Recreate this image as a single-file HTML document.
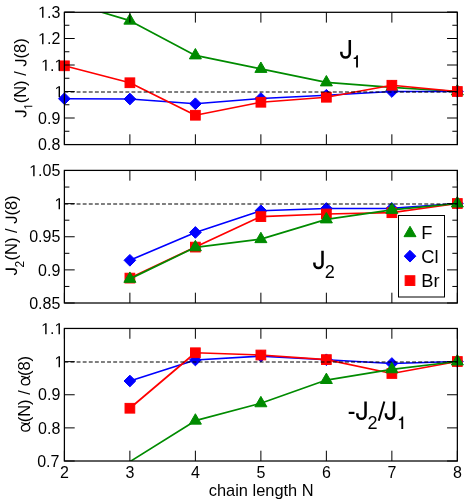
<!DOCTYPE html>
<html><head><meta charset="utf-8"><title>chart</title>
<style>
html,body{margin:0;padding:0;background:#fff;}
body{width:468px;height:504px;overflow:hidden;}
svg{display:block;will-change:transform;}
text{font-family:"Liberation Sans",sans-serif;fill:#000;}
.t{font-size:16px;}
.a{font-size:16.5px;}
.big{font-size:25.5px;}
.sub{font-size:18px;}
.leg{font-size:18.3px;}
</style></head><body>
<svg width="468" height="504" viewBox="0 0 468 504">
<rect x="0" y="0" width="468" height="504" fill="#ffffff"/>
<defs>
<clipPath id="c0"><rect x="64.4" y="12.3" width="392.95" height="132.30"/></clipPath>
<clipPath id="c1"><rect x="64.4" y="170.4" width="392.95" height="132.60"/></clipPath>
<clipPath id="c2"><rect x="64.4" y="328.45" width="392.95" height="132.55"/></clipPath>
</defs>
<g id="panel0">
<polyline clip-path="url(#c0)" points="64.40,1.00 129.89,20.67 195.38,55.42 260.88,68.92 326.37,82.42 391.86,87.30 457.35,91.50" fill="none" stroke="#008b00" stroke-width="1.7" stroke-linejoin="round"/>
<polygon points="129.89,13.74 123.89,24.13 135.89,24.13" fill="#008b00" stroke="#008b00" stroke-width="1" stroke-linejoin="miter" stroke-miterlimit="10"/>
<polygon points="195.38,48.49 189.38,58.88 201.38,58.88" fill="#008b00" stroke="#008b00" stroke-width="1" stroke-linejoin="miter" stroke-miterlimit="10"/>
<polygon points="260.88,61.99 254.88,72.38 266.88,72.38" fill="#008b00" stroke="#008b00" stroke-width="1" stroke-linejoin="miter" stroke-miterlimit="10"/>
<polygon points="326.37,75.49 320.37,85.88 332.37,85.88" fill="#008b00" stroke="#008b00" stroke-width="1" stroke-linejoin="miter" stroke-miterlimit="10"/>
<polygon points="391.86,80.37 385.86,90.76 397.86,90.76" fill="#008b00" stroke="#008b00" stroke-width="1" stroke-linejoin="miter" stroke-miterlimit="10"/>
<polygon points="457.35,84.57 451.35,94.96 463.35,94.96" fill="#008b00" stroke="#008b00" stroke-width="1" stroke-linejoin="miter" stroke-miterlimit="10"/>
<polyline clip-path="url(#c0)" points="64.40,98.75 129.89,99.00 195.38,103.75 260.88,98.50 326.37,95.25 391.86,91.50 457.35,91.50" fill="none" stroke="#0000ff" stroke-width="1.7" stroke-linejoin="round"/>
<polygon points="64.40,92.90 70.25,98.75 64.40,104.60 58.55,98.75" fill="#0000ff" stroke="#0000ff" stroke-width="1" stroke-linejoin="miter" stroke-miterlimit="10"/>
<polygon points="129.89,93.15 135.74,99.00 129.89,104.85 124.04,99.00" fill="#0000ff" stroke="#0000ff" stroke-width="1" stroke-linejoin="miter" stroke-miterlimit="10"/>
<polygon points="195.38,97.90 201.23,103.75 195.38,109.60 189.53,103.75" fill="#0000ff" stroke="#0000ff" stroke-width="1" stroke-linejoin="miter" stroke-miterlimit="10"/>
<polygon points="260.88,92.65 266.73,98.50 260.88,104.35 255.03,98.50" fill="#0000ff" stroke="#0000ff" stroke-width="1" stroke-linejoin="miter" stroke-miterlimit="10"/>
<polygon points="326.37,89.40 332.22,95.25 326.37,101.10 320.52,95.25" fill="#0000ff" stroke="#0000ff" stroke-width="1" stroke-linejoin="miter" stroke-miterlimit="10"/>
<polygon points="391.86,85.65 397.71,91.50 391.86,97.35 386.01,91.50" fill="#0000ff" stroke="#0000ff" stroke-width="1" stroke-linejoin="miter" stroke-miterlimit="10"/>
<polygon points="457.35,85.65 463.20,91.50 457.35,97.35 451.50,91.50" fill="#0000ff" stroke="#0000ff" stroke-width="1" stroke-linejoin="miter" stroke-miterlimit="10"/>
<polyline clip-path="url(#c0)" points="64.40,65.80 129.89,82.75 195.38,115.25 260.88,102.25 326.37,97.25 391.86,85.25 457.35,91.50" fill="none" stroke="#ff0000" stroke-width="1.7" stroke-linejoin="round"/>
<rect x="59.55" y="60.95" width="9.70" height="9.70" fill="#ff0000" stroke="#ff0000" stroke-width="1" stroke-linejoin="miter" stroke-miterlimit="10"/>
<rect x="125.04" y="77.90" width="9.70" height="9.70" fill="#ff0000" stroke="#ff0000" stroke-width="1" stroke-linejoin="miter" stroke-miterlimit="10"/>
<rect x="190.53" y="110.40" width="9.70" height="9.70" fill="#ff0000" stroke="#ff0000" stroke-width="1" stroke-linejoin="miter" stroke-miterlimit="10"/>
<rect x="256.02" y="97.40" width="9.70" height="9.70" fill="#ff0000" stroke="#ff0000" stroke-width="1" stroke-linejoin="miter" stroke-miterlimit="10"/>
<rect x="321.52" y="92.40" width="9.70" height="9.70" fill="#ff0000" stroke="#ff0000" stroke-width="1" stroke-linejoin="miter" stroke-miterlimit="10"/>
<rect x="387.01" y="80.40" width="9.70" height="9.70" fill="#ff0000" stroke="#ff0000" stroke-width="1" stroke-linejoin="miter" stroke-miterlimit="10"/>
<rect x="452.50" y="86.65" width="9.70" height="9.70" fill="#ff0000" stroke="#ff0000" stroke-width="1" stroke-linejoin="miter" stroke-miterlimit="10"/>
<line x1="64.4" y1="92.00" x2="457.35" y2="92.00" stroke="#000" stroke-width="1.1" stroke-dasharray="3.9,2.2"/>
<path d="M64.40,12.3v10.3M64.40,144.6v-10.3M129.89,12.3v10.3M129.89,144.6v-10.3M195.38,12.3v10.3M195.38,144.6v-10.3M260.88,12.3v10.3M260.88,144.6v-10.3M326.37,12.3v10.3M326.37,144.6v-10.3M391.86,12.3v10.3M391.86,144.6v-10.3M457.35,12.3v10.3M457.35,144.6v-10.3M64.4,12.00h10.3M457.35,12.00h-10.3M64.4,38.50h10.3M457.35,38.50h-10.3M64.4,65.00h10.3M457.35,65.00h-10.3M64.4,91.50h10.3M457.35,91.50h-10.3M64.4,118.00h10.3M457.35,118.00h-10.3M64.4,144.50h10.3M457.35,144.50h-10.3M64.4,25.25h5M457.35,25.25h-5M64.4,51.75h5M457.35,51.75h-5M64.4,78.25h5M457.35,78.25h-5M64.4,104.75h5M457.35,104.75h-5M64.4,131.25h5M457.35,131.25h-5" stroke="#000" stroke-width="1.0" fill="none"/>
<rect x="64.4" y="12.3" width="392.95" height="132.30" fill="none" stroke="#000" stroke-width="1.25"/>
<text class="t" x="60.3" y="17.65" text-anchor="end"><tspan visibility="hidden">1</tspan>.3</text><path d="M42.08,17.65L42.08,7.99L39.60,9.76L39.60,8.43L42.20,6.64L43.50,6.64L43.50,17.65Z" fill="#000"/>
<text class="t" x="60.3" y="44.15" text-anchor="end"><tspan visibility="hidden">1</tspan>.2</text><path d="M42.08,44.15L42.08,34.49L39.60,36.26L39.60,34.93L42.20,33.14L43.50,33.14L43.50,44.15Z" fill="#000"/>
<text class="t" x="63.4" y="70.65" text-anchor="end"><tspan visibility="hidden">1</tspan>.<tspan visibility="hidden">1</tspan></text><path d="M45.18,70.65L45.18,60.99L42.70,62.76L42.70,61.43L45.30,59.64L46.60,59.64L46.60,70.65Z" fill="#000"/><path d="M58.52,70.65L58.52,60.99L56.04,62.76L56.04,61.43L58.64,59.64L59.94,59.64L59.94,70.65Z" fill="#000"/>
<path d="M58.59,97.15L58.59,87.49L56.10,89.26L56.10,87.93L58.70,86.14L60.00,86.14L60.00,97.15Z" fill="#000"/>
<text class="t" x="60.3" y="123.65" text-anchor="end">0.9</text>
<text class="t" x="60.3" y="150.15" text-anchor="end">0.8</text>
</g>
<g id="panel1">
<polyline clip-path="url(#c1)" points="129.89,260.30 195.38,232.45 260.88,210.75 326.37,208.50 391.86,208.40 457.35,203.50" fill="none" stroke="#0000ff" stroke-width="1.7" stroke-linejoin="round"/>
<polygon points="129.89,254.45 135.74,260.30 129.89,266.15 124.04,260.30" fill="#0000ff" stroke="#0000ff" stroke-width="1" stroke-linejoin="miter" stroke-miterlimit="10"/>
<polygon points="195.38,226.60 201.23,232.45 195.38,238.30 189.53,232.45" fill="#0000ff" stroke="#0000ff" stroke-width="1" stroke-linejoin="miter" stroke-miterlimit="10"/>
<polygon points="260.88,204.90 266.73,210.75 260.88,216.60 255.03,210.75" fill="#0000ff" stroke="#0000ff" stroke-width="1" stroke-linejoin="miter" stroke-miterlimit="10"/>
<polygon points="326.37,202.65 332.22,208.50 326.37,214.35 320.52,208.50" fill="#0000ff" stroke="#0000ff" stroke-width="1" stroke-linejoin="miter" stroke-miterlimit="10"/>
<polygon points="391.86,202.55 397.71,208.40 391.86,214.25 386.01,208.40" fill="#0000ff" stroke="#0000ff" stroke-width="1" stroke-linejoin="miter" stroke-miterlimit="10"/>
<polygon points="457.35,197.65 463.20,203.50 457.35,209.35 451.50,203.50" fill="#0000ff" stroke="#0000ff" stroke-width="1" stroke-linejoin="miter" stroke-miterlimit="10"/>
<polyline clip-path="url(#c1)" points="129.89,278.10 195.38,247.10 260.88,216.60 326.37,214.00 391.86,212.70 457.35,203.50" fill="none" stroke="#ff0000" stroke-width="1.7" stroke-linejoin="round"/>
<rect x="125.04" y="273.25" width="9.70" height="9.70" fill="#ff0000" stroke="#ff0000" stroke-width="1" stroke-linejoin="miter" stroke-miterlimit="10"/>
<rect x="190.53" y="242.25" width="9.70" height="9.70" fill="#ff0000" stroke="#ff0000" stroke-width="1" stroke-linejoin="miter" stroke-miterlimit="10"/>
<rect x="256.02" y="211.75" width="9.70" height="9.70" fill="#ff0000" stroke="#ff0000" stroke-width="1" stroke-linejoin="miter" stroke-miterlimit="10"/>
<rect x="321.52" y="209.15" width="9.70" height="9.70" fill="#ff0000" stroke="#ff0000" stroke-width="1" stroke-linejoin="miter" stroke-miterlimit="10"/>
<rect x="387.01" y="207.85" width="9.70" height="9.70" fill="#ff0000" stroke="#ff0000" stroke-width="1" stroke-linejoin="miter" stroke-miterlimit="10"/>
<rect x="452.50" y="198.65" width="9.70" height="9.70" fill="#ff0000" stroke="#ff0000" stroke-width="1" stroke-linejoin="miter" stroke-miterlimit="10"/>
<polyline clip-path="url(#c1)" points="129.89,278.87 195.38,247.30 260.88,239.17 326.37,219.42 391.86,209.90 457.35,203.50" fill="none" stroke="#008b00" stroke-width="1.7" stroke-linejoin="round"/>
<polygon points="129.89,271.94 123.89,282.33 135.89,282.33" fill="#008b00" stroke="#008b00" stroke-width="1" stroke-linejoin="miter" stroke-miterlimit="10"/>
<polygon points="195.38,240.37 189.38,250.76 201.38,250.76" fill="#008b00" stroke="#008b00" stroke-width="1" stroke-linejoin="miter" stroke-miterlimit="10"/>
<polygon points="260.88,232.24 254.88,242.63 266.88,242.63" fill="#008b00" stroke="#008b00" stroke-width="1" stroke-linejoin="miter" stroke-miterlimit="10"/>
<polygon points="326.37,212.49 320.37,222.88 332.37,222.88" fill="#008b00" stroke="#008b00" stroke-width="1" stroke-linejoin="miter" stroke-miterlimit="10"/>
<polygon points="391.86,202.97 385.86,213.36 397.86,213.36" fill="#008b00" stroke="#008b00" stroke-width="1" stroke-linejoin="miter" stroke-miterlimit="10"/>
<polygon points="457.35,196.57 451.35,206.96 463.35,206.96" fill="#008b00" stroke="#008b00" stroke-width="1" stroke-linejoin="miter" stroke-miterlimit="10"/>
<line x1="64.4" y1="204.00" x2="457.35" y2="204.00" stroke="#000" stroke-width="1.1" stroke-dasharray="3.9,2.2"/>
<rect x="398.5" y="215.5" width="46" height="81.5" fill="#fff" stroke="#000" stroke-width="1"/>
<polygon points="410.00,226.27 404.00,236.66 416.00,236.66" fill="#008b00" stroke="#008b00" stroke-width="1" stroke-linejoin="miter" stroke-miterlimit="10"/>
<polygon points="410.00,250.35 415.85,256.20 410.00,262.05 404.15,256.20" fill="#0000ff" stroke="#0000ff" stroke-width="1" stroke-linejoin="miter" stroke-miterlimit="10"/>
<rect x="405.15" y="275.75" width="9.70" height="9.70" fill="#ff0000" stroke="#ff0000" stroke-width="1" stroke-linejoin="miter" stroke-miterlimit="10"/>
<text class="leg" x="421.2" y="238.5">F</text>
<text class="leg" x="421.2" y="262.8">Cl</text>
<text class="leg" x="421.2" y="287">Br</text>
<path d="M64.40,170.4v10.3M64.40,303.0v-10.3M129.89,170.4v10.3M129.89,303.0v-10.3M195.38,170.4v10.3M195.38,303.0v-10.3M260.88,170.4v10.3M260.88,303.0v-10.3M326.37,170.4v10.3M326.37,303.0v-10.3M391.86,170.4v10.3M391.86,303.0v-10.3M457.35,170.4v10.3M457.35,303.0v-10.3M64.4,170.50h10.3M457.35,170.50h-10.3M64.4,203.62h10.3M457.35,203.62h-10.3M64.4,236.75h10.3M457.35,236.75h-10.3M64.4,269.88h10.3M457.35,269.88h-10.3M64.4,303.00h10.3M457.35,303.00h-10.3M64.4,187.06h5M457.35,187.06h-5M64.4,220.19h5M457.35,220.19h-5M64.4,253.31h5M457.35,253.31h-5M64.4,286.44h5M457.35,286.44h-5" stroke="#000" stroke-width="1.0" fill="none"/>
<rect x="64.4" y="170.4" width="392.95" height="132.60" fill="none" stroke="#000" stroke-width="1.25"/>
<text class="t" x="60.3" y="176.15" text-anchor="end"><tspan visibility="hidden">1</tspan>.05</text><path d="M33.18,176.15L33.18,166.49L30.70,168.26L30.70,166.93L33.30,165.14L34.60,165.14L34.60,176.15Z" fill="#000"/>
<path d="M58.59,209.28L58.59,199.61L56.10,201.38L56.10,200.06L58.70,198.27L60.00,198.27L60.00,209.28Z" fill="#000"/>
<text class="t" x="60.3" y="242.40" text-anchor="end">0.95</text>
<text class="t" x="60.3" y="275.52" text-anchor="end">0.9</text>
<text class="t" x="60.3" y="308.65" text-anchor="end">0.85</text>
</g>
<g id="panel2">
<polyline clip-path="url(#c2)" points="129.89,381.00 195.38,360.00 260.88,356.10 326.37,359.75 391.86,363.50 457.35,361.50" fill="none" stroke="#0000ff" stroke-width="1.7" stroke-linejoin="round"/>
<polygon points="129.89,375.15 135.74,381.00 129.89,386.85 124.04,381.00" fill="#0000ff" stroke="#0000ff" stroke-width="1" stroke-linejoin="miter" stroke-miterlimit="10"/>
<polygon points="195.38,354.15 201.23,360.00 195.38,365.85 189.53,360.00" fill="#0000ff" stroke="#0000ff" stroke-width="1" stroke-linejoin="miter" stroke-miterlimit="10"/>
<polygon points="260.88,350.25 266.73,356.10 260.88,361.95 255.03,356.10" fill="#0000ff" stroke="#0000ff" stroke-width="1" stroke-linejoin="miter" stroke-miterlimit="10"/>
<polygon points="326.37,353.90 332.22,359.75 326.37,365.60 320.52,359.75" fill="#0000ff" stroke="#0000ff" stroke-width="1" stroke-linejoin="miter" stroke-miterlimit="10"/>
<polygon points="391.86,357.65 397.71,363.50 391.86,369.35 386.01,363.50" fill="#0000ff" stroke="#0000ff" stroke-width="1" stroke-linejoin="miter" stroke-miterlimit="10"/>
<polygon points="457.35,355.65 463.20,361.50 457.35,367.35 451.50,361.50" fill="#0000ff" stroke="#0000ff" stroke-width="1" stroke-linejoin="miter" stroke-miterlimit="10"/>
<polyline clip-path="url(#c2)" points="129.89,408.25 195.38,352.75 260.88,355.00 326.37,359.60 391.86,373.50 457.35,361.50" fill="none" stroke="#ff0000" stroke-width="1.7" stroke-linejoin="round"/>
<rect x="125.04" y="403.40" width="9.70" height="9.70" fill="#ff0000" stroke="#ff0000" stroke-width="1" stroke-linejoin="miter" stroke-miterlimit="10"/>
<rect x="190.53" y="347.90" width="9.70" height="9.70" fill="#ff0000" stroke="#ff0000" stroke-width="1" stroke-linejoin="miter" stroke-miterlimit="10"/>
<rect x="256.02" y="350.15" width="9.70" height="9.70" fill="#ff0000" stroke="#ff0000" stroke-width="1" stroke-linejoin="miter" stroke-miterlimit="10"/>
<rect x="321.52" y="354.75" width="9.70" height="9.70" fill="#ff0000" stroke="#ff0000" stroke-width="1" stroke-linejoin="miter" stroke-miterlimit="10"/>
<rect x="387.01" y="368.65" width="9.70" height="9.70" fill="#ff0000" stroke="#ff0000" stroke-width="1" stroke-linejoin="miter" stroke-miterlimit="10"/>
<rect x="452.50" y="356.65" width="9.70" height="9.70" fill="#ff0000" stroke="#ff0000" stroke-width="1" stroke-linejoin="miter" stroke-miterlimit="10"/>
<polyline clip-path="url(#c2)" points="129.89,461.60 195.38,420.67 260.88,403.30 326.37,380.05 391.86,369.30 457.35,361.50" fill="none" stroke="#008b00" stroke-width="1.7" stroke-linejoin="round"/>
<polygon points="195.38,413.74 189.38,424.13 201.38,424.13" fill="#008b00" stroke="#008b00" stroke-width="1" stroke-linejoin="miter" stroke-miterlimit="10"/>
<polygon points="260.88,396.37 254.88,406.76 266.88,406.76" fill="#008b00" stroke="#008b00" stroke-width="1" stroke-linejoin="miter" stroke-miterlimit="10"/>
<polygon points="326.37,373.12 320.37,383.51 332.37,383.51" fill="#008b00" stroke="#008b00" stroke-width="1" stroke-linejoin="miter" stroke-miterlimit="10"/>
<polygon points="391.86,362.37 385.86,372.76 397.86,372.76" fill="#008b00" stroke="#008b00" stroke-width="1" stroke-linejoin="miter" stroke-miterlimit="10"/>
<polygon points="457.35,354.57 451.35,364.96 463.35,364.96" fill="#008b00" stroke="#008b00" stroke-width="1" stroke-linejoin="miter" stroke-miterlimit="10"/>
<line x1="64.4" y1="362.00" x2="457.35" y2="362.00" stroke="#000" stroke-width="1.1" stroke-dasharray="3.9,2.2"/>
<path d="M64.40,328.45v10.3M64.40,461.0v-10.3M129.89,328.45v10.3M129.89,461.0v-10.3M195.38,328.45v10.3M195.38,461.0v-10.3M260.88,328.45v10.3M260.88,461.0v-10.3M326.37,328.45v10.3M326.37,461.0v-10.3M391.86,328.45v10.3M391.86,461.0v-10.3M457.35,328.45v10.3M457.35,461.0v-10.3M64.4,328.50h10.3M457.35,328.50h-10.3M64.4,361.62h10.3M457.35,361.62h-10.3M64.4,394.75h10.3M457.35,394.75h-10.3M64.4,427.88h10.3M457.35,427.88h-10.3M64.4,461.00h10.3M457.35,461.00h-10.3" stroke="#000" stroke-width="1.0" fill="none"/>
<rect x="64.4" y="328.45" width="392.95" height="132.55" fill="none" stroke="#000" stroke-width="1.25"/>
<text class="t" x="63.4" y="334.15" text-anchor="end"><tspan visibility="hidden">1</tspan>.<tspan visibility="hidden">1</tspan></text><path d="M45.18,334.15L45.18,324.49L42.70,326.26L42.70,324.93L45.30,323.14L46.60,323.14L46.60,334.15Z" fill="#000"/><path d="M58.52,334.15L58.52,324.49L56.04,326.26L56.04,324.93L58.64,323.14L59.94,323.14L59.94,334.15Z" fill="#000"/>
<path d="M58.59,367.27L58.59,357.61L56.10,359.38L56.10,358.06L58.70,356.27L60.00,356.27L60.00,367.27Z" fill="#000"/>
<text class="t" x="60.3" y="400.40" text-anchor="end">0.9</text>
<text class="t" x="60.3" y="433.52" text-anchor="end">0.8</text>
<text class="t" x="59.4" y="466.65" text-anchor="end">0.7</text>
</g>
<text class="t" x="64.40" y="478.0" text-anchor="middle">2</text>
<text class="t" x="129.89" y="478.0" text-anchor="middle">3</text>
<text class="t" x="195.38" y="478.0" text-anchor="middle">4</text>
<text class="t" x="260.88" y="478.0" text-anchor="middle">5</text>
<text class="t" x="326.37" y="478.0" text-anchor="middle">6</text>
<text class="t" x="391.86" y="478.0" text-anchor="middle">7</text>
<text class="t" x="457.35" y="478.0" text-anchor="middle">8</text>
<text class="a" x="261.2" y="495.6" text-anchor="middle" style="font-size:16.4px">chain length N</text>
<g transform="translate(26.4,78.2) rotate(-90)"><text class="a" x="0" y="0" text-anchor="middle" style="font-size:16.5px"><tspan visibility="hidden">J</tspan><tspan dx="0.2" dy="5.9" font-size="11.8px" visibility="hidden">1</tspan><tspan dx="-0.2" dy="-5.9">(N) / </tspan><tspan visibility="hidden">J</tspan>(8)</text><path d="M-35.76,0.16Q-38.65,0.16 -39.19,-2.82L-37.68,-3.07Q-37.53,-2.14 -37.03,-1.61Q-36.52,-1.09 -35.75,-1.09Q-34.92,-1.09 -34.43,-1.66Q-33.95,-2.24 -33.95,-3.35L-33.95,-11.35L-32.42,-11.35L-32.42,-3.38Q-32.42,-1.73 -33.31,-0.79Q-34.21,0.16 -35.76,0.16Z" fill="#000"/><path d="M15.21,0.16Q12.32,0.16 11.79,-2.82L13.29,-3.07Q13.44,-2.14 13.94,-1.61Q14.45,-1.09 15.22,-1.09Q16.06,-1.09 16.54,-1.66Q17.02,-2.24 17.02,-3.35L17.02,-11.35L18.55,-11.35L18.55,-3.38Q18.55,-1.73 17.66,-0.79Q16.76,0.16 15.21,0.16Z" fill="#000"/><path d="M-28.53,5.90L-28.53,-1.23L-30.36,0.08L-30.36,-0.90L-28.44,-2.22L-27.48,-2.22L-27.48,5.90Z" fill="#000"/></g>
<g transform="translate(16.9,235.4) rotate(-90)"><text class="a" x="0" y="0" text-anchor="middle" style="font-size:16.5px"><tspan visibility="hidden">J</tspan><tspan dx="-0.3" dy="6.6" font-size="12.0px">2</tspan><tspan dx="0.3" dy="-6.6">(N) / </tspan><tspan visibility="hidden">J</tspan>(8)</text><path d="M-36.32,0.16Q-39.20,0.16 -39.74,-2.82L-38.23,-3.07Q-38.09,-2.14 -37.58,-1.61Q-37.07,-1.09 -36.31,-1.09Q-35.47,-1.09 -34.99,-1.66Q-34.50,-2.24 -34.50,-3.35L-34.50,-11.35L-32.97,-11.35L-32.97,-3.38Q-32.97,-1.73 -33.87,-0.79Q-34.76,0.16 -36.32,0.16Z" fill="#000"/><path d="M15.26,0.16Q12.38,0.16 11.84,-2.82L13.35,-3.07Q13.49,-2.14 14.00,-1.61Q14.51,-1.09 15.27,-1.09Q16.11,-1.09 16.59,-1.66Q17.08,-2.24 17.08,-3.35L17.08,-11.35L18.61,-11.35L18.61,-3.38Q18.61,-1.73 17.71,-0.79Q16.82,0.16 15.26,0.16Z" fill="#000"/></g>
<text class="a" transform="translate(29.6,393.9) rotate(-90)" text-anchor="middle"><tspan visibility="hidden">&#945;</tspan>(N) / <tspan visibility="hidden">&#945;</tspan>(8)</text>
<g transform="translate(29.6,431.9) rotate(-90) scale(0.01650)"><path d="M555,-485C525,-330 455,12 250,12C118,12 45,-95 45,-240C45,-395 122,-500 256,-500C425,-500 465,-200 505,-70C520,-20 545,0 580,-8" fill="none" stroke="#000" stroke-width="72" stroke-linecap="round" stroke-linejoin="round"/></g>
<g transform="translate(29.6,385.6) rotate(-90) scale(0.01650)"><path d="M555,-485C525,-330 455,12 250,12C118,12 45,-95 45,-240C45,-395 122,-500 256,-500C425,-500 465,-200 505,-70C520,-20 545,0 580,-8" fill="none" stroke="#000" stroke-width="72" stroke-linecap="round" stroke-linejoin="round"/></g>
<path d="M349.80,40.10V53.27A4.22,4.22 0 0 1 341.35,53.27V51.67" fill="none" stroke="#000" stroke-width="2.5" stroke-linecap="butt"/>
<path d="M357.95,67.60H356.10V58.96H353.65V57.80C355.49,57.80 356.20,56.70 356.55,55.35H357.95Z" fill="#000"/>
<path d="M322.50,250.80V264.00A4.05,4.05 0 0 1 314.40,264.00V262.40" fill="none" stroke="#000" stroke-width="2.5" stroke-linecap="butt"/>
<text x="324.8" y="277.75" font-size="18.1px">2</text>
<rect x="348.7" y="411.8" width="5.75" height="2.2" fill="#000"/>
<path d="M365.55,401.60V414.75A4.10,4.10 0 0 1 357.35,414.75V413.15" fill="none" stroke="#000" stroke-width="2.5" stroke-linecap="butt"/>
<text x="367.5" y="428.7" font-size="18.1px">2</text>
<line x1="378.75" y1="420.7" x2="384.35" y2="401.5" stroke="#000" stroke-width="2.0"/>
<path d="M394.00,401.60V414.75A4.05,4.05 0 0 1 385.90,414.75V413.15" fill="none" stroke="#000" stroke-width="2.5" stroke-linecap="butt"/>
<path d="M403.20,428.90H401.35V420.16H398.87V418.98C400.73,418.98 401.45,417.86 401.80,416.50H403.20Z" fill="#000"/>
</svg></body></html>
